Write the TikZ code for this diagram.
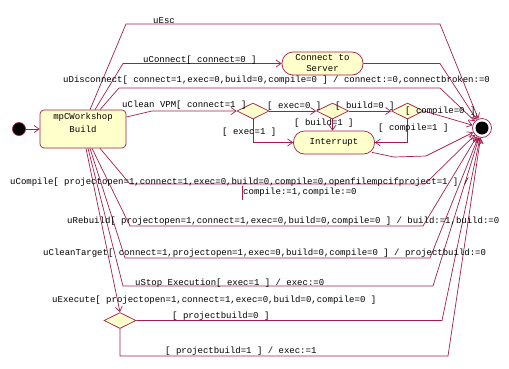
\documentclass[tikz,border=0pt]{standalone}
\usepackage{fontspec}
\setmonofont{Liberation Mono}
\usetikzlibrary{shapes.geometric,arrows.meta}
\definecolor{edge}{RGB}{165,30,75}
\definecolor{fillc}{RGB}{255,255,204}
\begin{document}
\begin{tikzpicture}[x=1pt,y=-1pt,
  lbl/.style={font=\ttfamily\fontsize{9}{10}\selectfont, inner sep=0pt, anchor=west},
  conn/.style={draw=edge, line width=0.7pt, -{Straight Barb[length=5pt,width=7pt]}},
  plain/.style={draw=edge, line width=0.7pt},
  statebox/.style={draw=edge, fill=fillc, line width=0.7pt, rounded corners=4pt, minimum width=86pt, minimum height=38pt, inner sep=0pt},
  stad/.style={draw=edge, fill=fillc, line width=0.7pt, rounded corners=11pt, minimum width=81pt, minimum height=23pt, inner sep=0pt, align=center, font=\ttfamily\fontsize{9}{11}\selectfont},
  dec/.style={diamond, draw=edge, fill=fillc, line width=0.7pt, minimum width=32pt, minimum height=16pt, inner sep=0pt}
]
\useasboundingbox (0,0) rectangle (509,368);

% states
\node[circle, fill=black, draw=edge, line width=0.7pt, minimum size=13pt, inner sep=0pt] (init) at (19,129) {};
\node[statebox] (build) at (83,129) {};
\node[font=\ttfamily\fontsize{9}{10}\selectfont, inner sep=0pt] (buildt1) at (83,117) {mpCWorkshop};
\node[font=\ttfamily\fontsize{9}{10}\selectfont, inner sep=0pt] (buildt2) at (83,129) {Build};
\node[stad] (srv) at (322.5,63.5) {Connect to\\Server};
\node[stad] (intr) at (334,142.5) {Interrupt};
\node[circle, draw=edge, fill=white, line width=0.7pt, minimum size=19pt, inner sep=0pt] (fin) at (482,128) {};
\node[circle, fill=black, minimum size=13pt, inner sep=0pt] (finin) at (fin) {};
\node[dec] (d1) at (253,111) {};
\node[dec] (d2) at (332.5,111) {};
\node[dec] (d3) at (407.5,111) {};
\node[dec] (d4) at (120,320.5) {};

% connectors
\draw[conn] (init) -- (build);
\draw[conn] ([xshift=7pt]build.north) -- (126,24) -- (440,24) -- (fin);
\draw[conn] ([xshift=12pt]build.north) -- (123,63.5) -- (srv);
\draw[conn] (srv.east) -- (440,63.5) -- (fin);
\draw[conn] ([xshift=17pt]build.north) -- (119,88) -- (440,88) -- (fin);
\draw[conn] ([yshift=12pt]build.east) -- (152,111) -- (d1);
\draw[conn] (d1) -- (d2);
\draw[conn] (d2) -- (d3);
\draw[conn] (d3.east) -- (fin);
\draw[conn] (d1.south) |- (intr);
\draw[conn] (d2.south) -- (d2.south |- intr.north);
\draw[conn] (d3.south) |- (intr);
\draw[conn] ([xshift=-3pt,yshift=2pt]intr.south east) -- (394,157) -- (426,156) -- (fin);
\draw[conn] ([xshift=17pt]build.south) -- (130,184) -- (425,184) -- (fin);
\draw[conn] ([xshift=9pt]build.south) -- (130,226) -- (423,226) -- (fin);
\draw[conn] ([xshift=7pt]build.south) -- (125,258) -- (430,258) -- (fin);
\draw[conn] ([xshift=5pt]build.south) -- (123,286) -- (433,286) -- (fin);
\draw[conn] ([xshift=3pt]build.south) -- (d4.north);
\draw[conn] (d4.east) -- (442,320.5) -- (fin);
\draw[conn] (d4.south) -- (120,356) -- (448,356) -- (fin);
\draw[plain] (242,186) -- (242,200);

% labels
\node[lbl] (l1) at (153,21) {uEsc};
\node[lbl] (l2) at (143,60) {uConnect[ connect=0 ]};
\node[lbl] (l3) at (63,80) {uDisconnect[ connect=1,exec=0,build=0,compile=0 ] / connect:=0,connectbroken:=0};
\node[lbl] (l4) at (122,105) {uClean VPM[ connect=1 ]};
\node[lbl] (l5) at (267,106) {[ exec=0 ]};
\node[lbl] (l6) at (335,106) {[ build=0 ]};
\node[lbl] (l7) at (405,111) {[ compile=0 ]};
\node[lbl] (l8) at (294,123) {[ build=1 ]};
\node[lbl] (l9) at (222,132) {[ exec=1 ]};
\node[lbl] (l10) at (378,128) {[ compile=1 ]};
\node[lbl] (l11) at (10,182) {uCompile[ projectopen=1,connect=1,exec=0,build=0,compile=0,openfilempcifproject=1 ] /};
\node[lbl] (l12) at (243,192) {compile:=1,compile:=0};
\node[lbl] (l13) at (67,221) {uRebuild[ projectopen=1,connect=1,exec=0,build=0,compile=0 ] / build:=1,build:=0};
\node[lbl] (l14) at (43,253) {uCleanTarget[ connect=1,projectopen=1,exec=0,build=0,compile=0 ] / projectbuild:=0};
\node[lbl] (l15) at (135,283) {uStop Execution[ exec=1 ] / exec:=0};
\node[lbl] (l16) at (52,300) {uExecute[ projectopen=1,connect=1,exec=0,build=0,compile=0 ]};
\node[lbl] (l17) at (172,316) {[ projectbuild=0 ]};
\node[lbl] (l18) at (165,351) {[ projectbuild=1 ] / exec:=1};
\end{tikzpicture}
\end{document}
